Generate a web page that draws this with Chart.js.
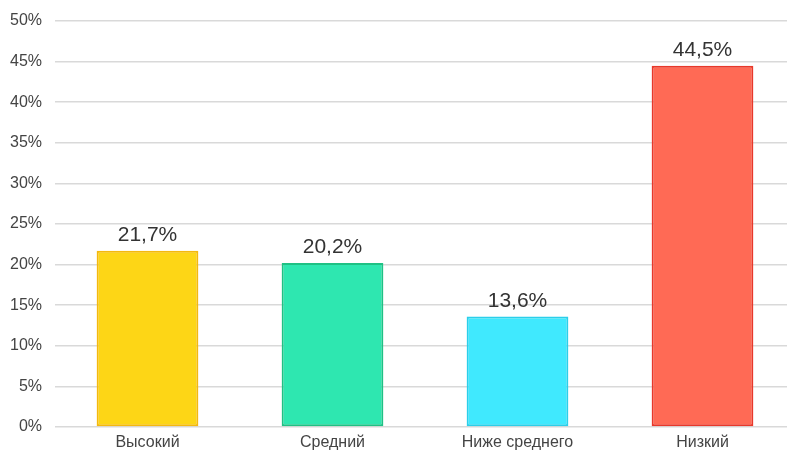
<!DOCTYPE html>
<html>
<head>
<meta charset="utf-8">
<script src="https://cdn.jsdelivr.net/npm/chart.js@4/dist/chart.umd.min.js"></script>
<style>
  html, body { margin: 0; padding: 0; background: #fff; overflow: hidden; }
  #wrap { width: 800px; height: 451px; }
</style>
</head>
<body>
<div id="wrap"><canvas id="chart"></canvas></div>
<script>
// income level groups and their shares, %
const categories = ['Высокий', 'Средний', 'Ниже среднего', 'Низкий'];
const shares = [21.7, 20.2, 13.6, 44.5];
const yTicks = [0, 5, 10, 15, 20, 25, 30, 35, 40, 45, 50];

const fillColors = ['#FDD616', '#2EE7B0', '#40E9FE', '#FF6A55'];
const edgeColors = ['#F4B90E', '#1FC184', '#2BCFEA', '#E8382A'];

const fontFamily = '"Liberation Sans", Arial, sans-serif';

// value labels above each bar, decimal comma
const valueLabels = {
    id: 'valueLabels',
    afterDatasetsDraw(chart) {
        const ctx = chart.ctx;
        const meta = chart.getDatasetMeta(0);
        ctx.save();
        ctx.font = '21px ' + fontFamily;
        ctx.fillStyle = '#333';
        ctx.textAlign = 'center';
        ctx.textBaseline = 'alphabetic';
        meta.data.forEach((bar, i) => {
            const txt = shares[i].toFixed(1).replace('.', ',') + '%';
            ctx.fillText(txt, bar.x, bar.y - 10);
        });
        ctx.restore();
    }
};

const ctx = document.getElementById('chart').getContext('2d');
new Chart(ctx, {
    type: 'bar',
    data: {
        labels: categories,
        datasets: [{
            data: shares,
            backgroundColor: fillColors,
            borderColor: edgeColors,
            borderWidth: 2,
            borderSkipped: false,
            barPercentage: 0.55,
            categoryPercentage: 1
        }]
    },
    options: {
        responsive: true,
        maintainAspectRatio: false,
        animation: false,
        layout: { padding: { top: 20, right: 5, left: 0, bottom: 0 } },
        plugins: {
            legend: { display: false },
            tooltip: { enabled: false }
        },
        scales: {
            x: {
                grid: { display: false, drawTicks: false },
                border: { display: false },
                ticks: {
                    color: '#444',
                    font: { family: fontFamily, size: 16 },
                    padding: 6
                },
                afterFit(scale) { scale.height = 24; }
            },
            y: {
                min: 0,
                max: 50,
                afterBuildTicks(scale) {
                    scale.ticks = yTicks.map(v => ({ value: v }));
                },
                grid: { color: '#d9d9d9', lineWidth: 1.5, drawTicks: false },
                border: { display: false },
                ticks: {
                    color: '#444',
                    font: { family: fontFamily, size: 16, lineHeight: 1 },
                    padding: 13,
                    callback: v => v + '%'
                },
                afterFit(scale) { scale.width = 55; }
            }
        }
    },
    plugins: [valueLabels]
});
</script>
</body>
</html>
